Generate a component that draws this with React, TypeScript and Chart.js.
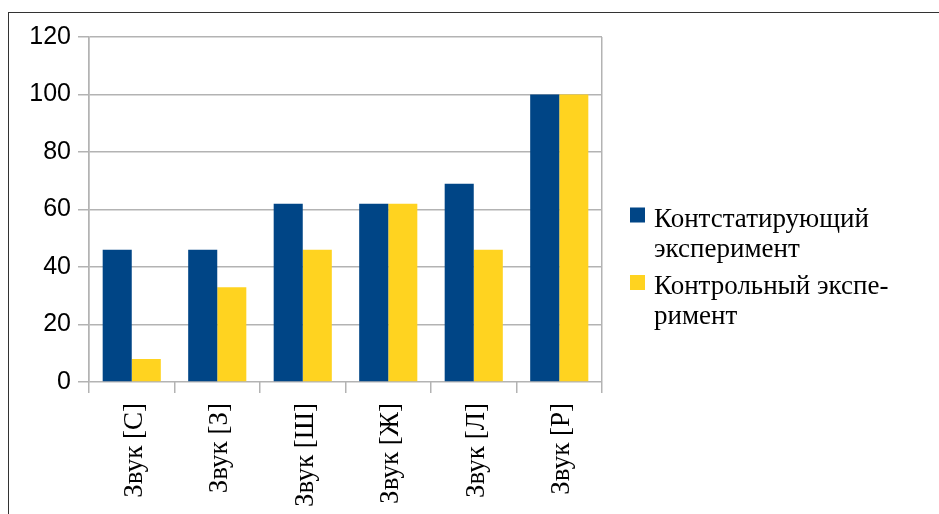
import React, { useEffect, useRef } from "react";
import { Chart, registerables } from "chart.js";

Chart.register(...registerables);

const categories = ["Звук [С]", "Звук [З]", "Звук [Ш]", "Звук [Ж]", "Звук [Л]", "Звук [Р]"];
const seriesNames = [
  ["Контстатирующий", "эксперимент"],
  ["Контрольный экспе-", "римент"],
];
const ascertaining = [46, 46, 62, 62, 69, 100];
const control = [8, 33, 46, 62, 46, 100];
const yTicks = [0, 20, 40, 60, 80, 100, 120];

const BLUE = "#004586";
const YELLOW = "#ffd320";
const GRID = "#b3b3b3";
const SERIF = "'Liberation Serif', 'Times New Roman', serif";

const legendPlugin = {
  id: "sideLegend",
  afterDraw(chart: any) {
    const ctx = chart.ctx;
    const area = chart.chartArea;
    const x0 = area.right + 28;
    ctx.save();
    ctx.font = "27px " + SERIF;
    ctx.textBaseline = "alphabetic";
    ctx.textAlign = "left";
    const starts = [226.5, 294];
    chart.data.datasets.forEach((ds: any, i: number) => {
      const base = starts[i];
      ctx.fillStyle = ds.backgroundColor;
      ctx.fillRect(x0, base - 19, 15, 15);
      ctx.fillStyle = "#000";
      const lines: string[] = seriesNames[i];
      lines.forEach((ln, j) => ctx.fillText(ln, x0 + 24, base + j * 30));
    });
    ctx.restore();
  },
};

export default function App() {
  const ref = useRef<HTMLCanvasElement>(null);
  useEffect(() => {
    if (!ref.current) return;
    const chart = new Chart(ref.current, {
      type: "bar",
      data: {
        labels: categories,
        datasets: [
          {
            label: seriesNames[0].join(" "),
            data: ascertaining,
            backgroundColor: BLUE,
            barPercentage: 1,
            categoryPercentage: 0.68,
          },
          {
            label: seriesNames[1].join(" "),
            data: control,
            backgroundColor: YELLOW,
            barPercentage: 1,
            categoryPercentage: 0.68,
          },
        ],
      },
      options: {
        responsive: false,
        animation: false,
        layout: { padding: { top: 37, right: 337, left: 0, bottom: 0 } },
        plugins: { legend: { display: false }, tooltip: { enabled: false } },
        scales: {
          x: {
            afterFit: (s: any) => {
              s.height = 132;
            },
            grid: {
              color: (c: any) => (c.type !== "tick" || c.index === 0 ? GRID : "rgba(0,0,0,0)"),
              tickColor: GRID,
              tickLength: 11,
              lineWidth: 1.5,
            },
            border: { display: false },
            ticks: {
              color: "#000",
              font: { family: SERIF, size: 27 },
              minRotation: 90,
              maxRotation: 90,
              padding: 10,
              labelOffset: 3,
              autoSkip: false,
            },
          },
          y: {
            min: 0,
            max: 120,
            afterFit: (s: any) => {
              s.width = 89;
            },
            afterBuildTicks: (s: any) => {
              s.ticks = yTicks.map((v) => ({ value: v }));
            },
            grid: { color: GRID, tickLength: 11, lineWidth: 1.5 },
            border: { display: true, color: GRID, width: 1.5 },
            ticks: {
              color: "#000",
              font: { family: "'Liberation Sans', Arial, sans-serif", size: 25 },
              padding: 7,
            },
          },
        },
      },
      plugins: [legendPlugin],
    });
    return () => chart.destroy();
  }, []);

  return (
    <div style={{ position: "fixed", left: 0, top: 0, width: 939, height: 514, overflow: "hidden", background: "#fff" }}>
      <div
        style={{
          position: "absolute",
          left: 8,
          top: 12,
          width: 960,
          height: 560,
          border: "1.5px solid #333",
          boxSizing: "border-box",
        }}
      />
      <canvas ref={ref} width={939} height={514} style={{ position: "absolute", left: 0, top: 0, display: "block" }} />
    </div>
  );
}
